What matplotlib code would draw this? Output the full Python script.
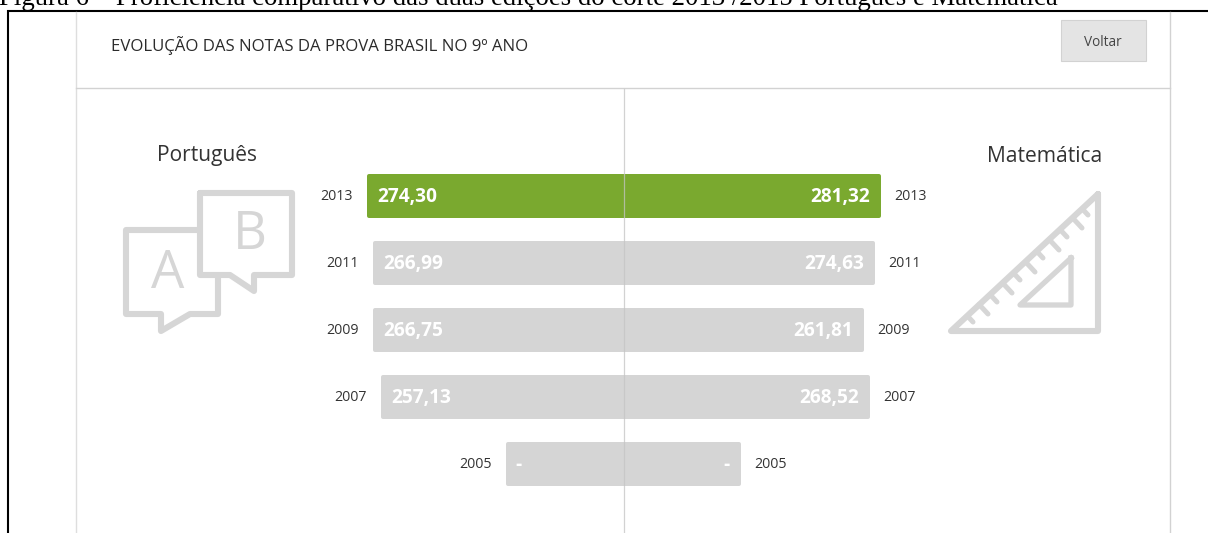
import numpy as np
import matplotlib
matplotlib.use('Agg')
import matplotlib.pyplot as plt
from matplotlib.patches import Rectangle

# data; 2005 has no score, its widths are only the drawn bar length
years = [2013, 2011, 2009, 2007, 2005]
portugues = [274.30, 266.99, 266.75, 257.13, 104.0]
matematica = [281.32, 274.63, 261.81, 268.52, 120.5]
portugues_labels = ['274,30', '266,99', '266,75', '257,13', '-']
matematica_labels = ['281,32', '274,63', '261,81', '268,52', '-']
bar_colors = ['#7aa92f', '#d5d5d5', '#d5d5d5', '#d5d5d5', '#d5d5d5']

W, H = 1208, 533
CX = 624
GRAY = '#d6d6d6'
LINE = '#d2d2d2'
TXT = '#333333'
FONT = 'Open Sans'

fig = plt.figure(figsize=(W / 100, H / 100), dpi=100)

# page in pixel coordinates: frame, header, icons
ax = fig.add_axes([0, 0, 1, 1])
ax.set_xlim(0, W)
ax.set_ylim(H, 0)
ax.axis('off')

ax.text(-1, 5, 'Figura 6 – Proficiência comparativo das duas edições do corte 2013 /2015 Português e Matemática',
        family='Liberation Serif', fontsize=19.27, color='black', va='baseline', ha='left')
ax.plot([7.5, 7.5, W], [H, 10.5, 10.5], color='black', lw=1.5, solid_joinstyle='miter')
ax.plot([76, 76], [12, H], color='#dedede', lw=1)
ax.plot([1170, 1170], [12, H], color=LINE, lw=1)
ax.plot([76, 1170], [88, 88], color=LINE, lw=1)

ax.text(111, 46, 'EVOLUÇÃO DAS NOTAS DA PROVA BRASIL NO 9º ANO', family=FONT, fontsize=12.05,
        color='#2b2b2b', va='center', ha='left')
ax.add_patch(Rectangle((1061, 20), 85, 41, facecolor='#e4e4e4', edgecolor='#d2d2d2', lw=0.8))
ax.text(1103, 42, 'Voltar', family=FONT, fontsize=9.8, color='#444444', va='center', ha='center')
ax.text(157, 156, 'Português', family=FONT, fontsize=15.1, color=TXT, va='center', ha='left')
ax.text(1102, 156, 'Matemática', family=FONT, fontsize=15.1, color=TXT, va='center', ha='right')

# speech bubbles
icon = dict(color=GRAY, lw=4.4, solid_joinstyle='round', solid_capstyle='round')
ax.plot([200, 292, 292, 254, 254, 230, 200, 200], [193, 193, 275, 275, 291, 275, 275, 193], **icon)
ax.plot([197, 126, 126, 161, 161, 190, 218, 218], [230, 230, 314, 314, 331, 314, 314, 278], **icon)
ax.text(168, 274, 'A', family=FONT, fontsize=38, color=GRAY, va='center', ha='center')
ax.text(250, 235, 'B', family=FONT, fontsize=38, color=GRAY, va='center', ha='center')

# set square
ax.plot([1098, 1098, 951, 1098], [194, 331, 331, 194], **icon)
ax.plot([1071, 1071, 1020, 1071], [258, 305, 305, 258], color=GRAY, lw=3.8, solid_joinstyle='round')
tick_ends = [(1088, 215), (1082, 228), (1067, 237), (1059, 250), (1043, 258), (1035, 272),
             (1020, 280), (1012, 293), (997, 302), (988, 314), (973, 322)]
for i, (tx, ty) in enumerate(tick_ends):
    d = 8 if i % 2 == 0 else 13
    ax.plot([tx - d * 0.68, tx], [ty - d * 0.73, ty], color=GRAY, lw=3.6, solid_capstyle='round')


def side_axes(x0, x1):
    # one half of the butterfly, rows spaced 67 px apart
    a = fig.add_axes([x0 / W, 0, (x1 - x0) / W, 1])
    a.patch.set_alpha(0)
    a.axis('off')
    a.set_ylim((H - 196) / 67, -196 / 67)
    return a


SL, SR = 0.815, 0.871
ROUND = 2  # px of rounding added outside the bar by the outline
axl = side_axes(0, CX)
zl = -41 + ROUND / SL
axl.set_xlim(zl + CX / SL, zl)
axr = side_axes(CX, W)
zr = -13.8 + ROUND / SR
axr.set_xlim(zr, zr + (W - CX) / SR)

rows = np.arange(len(years))
bar_h = (44 - 2 * ROUND) / 67
lw_pt = 2 * ROUND * 0.72
axl.barh(rows, np.array(portugues) - zl, left=zl, height=bar_h, color=bar_colors,
         edgecolor=bar_colors, linewidth=lw_pt, joinstyle='round')
axr.barh(rows, np.array(matematica) - zr, left=zr, height=bar_h, color=bar_colors,
         edgecolor=bar_colors, linewidth=lw_pt, joinstyle='round')

for i, y in enumerate(rows):
    axl.annotate(portugues_labels[i], (portugues[i], y), xytext=(8 * 0.72, -0.7), textcoords='offset points',
                 family=FONT, fontsize=13.8, fontweight='bold', color='white', va='center', ha='left')
    axl.annotate(str(years[i]), (portugues[i], y), xytext=(-16 * 0.72, -0.7), textcoords='offset points',
                 family=FONT, fontsize=10.2, color=TXT, va='center', ha='right')
    axr.annotate(matematica_labels[i], (matematica[i], y), xytext=(-9 * 0.72, -0.7), textcoords='offset points',
                 family=FONT, fontsize=13.8, fontweight='bold', color='white', va='center', ha='right')
    axr.annotate(str(years[i]), (matematica[i], y), xytext=(15 * 0.72, -0.7), textcoords='offset points',
                 family=FONT, fontsize=10.2, color=TXT, va='center', ha='left')

# centre rule sits over the bars
top = fig.add_axes([0, 0, 1, 1])
top.patch.set_alpha(0)
top.axis('off')
top.set_xlim(0, W)
top.set_ylim(H, 0)
top.plot([CX, CX], [89, H], color='#c4c4c4', alpha=0.75, lw=0.9)

fig.savefig('out.png', dpi=100)
